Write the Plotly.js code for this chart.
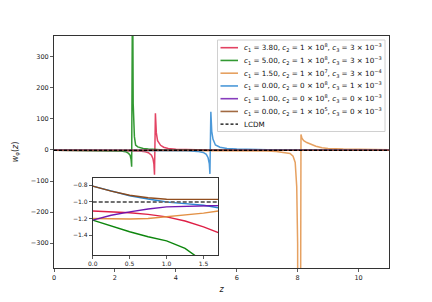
<!DOCTYPE html>
<html><head><meta charset="utf-8">
<script src="https://cdn.plot.ly/plotly-3.0.1.min.js"></script>
<style>html,body{margin:0;padding:0;background:#fff}#chart{width:432px;height:302px}</style>
</head><body><div id="chart"></div>
<script>
// ---- data ----
const labels = [
  "<i>c</i><sub>1</sub> = 3.80, <i>c</i><sub>2</sub> = 1 × 10<sup>8</sup>, <i>c</i><sub>3</sub> = 3 × 10<sup>−3</sup>",
  "<i>c</i><sub>1</sub> = 5.00, <i>c</i><sub>2</sub> = 1 × 10<sup>8</sup>, <i>c</i><sub>3</sub> = 3 × 10<sup>−3</sup>",
  "<i>c</i><sub>1</sub> = 1.50, <i>c</i><sub>2</sub> = 1 × 10<sup>7</sup>, <i>c</i><sub>3</sub> = 3 × 10<sup>−4</sup>",
  "<i>c</i><sub>1</sub> = 0.00, <i>c</i><sub>2</sub> = 0 × 10<sup>8</sup>, <i>c</i><sub>3</sub> = 1 × 10<sup>−3</sup>",
  "<i>c</i><sub>1</sub> = 1.00, <i>c</i><sub>2</sub> = 0 × 10<sup>8</sup>, <i>c</i><sub>3</sub> = 0 × 10<sup>−3</sup>",
  "<i>c</i><sub>1</sub> = 0.00, <i>c</i><sub>2</sub> = 1 × 10<sup>5</sup>, <i>c</i><sub>3</sub> = 0 × 10<sup>−3</sup>"
];
const lcdmLabel = "LCDM";

const zRed = [0,0.25,0.5,0.75,1.0,1.25,1.5,1.7,2.0,2.3,2.6,2.8,3.0,3.1,3.2,3.25,3.28,3.30,3.33,3.36,3.4,3.5,3.6,3.75,4.0,4.5,5,6,7,8,9,10,11];
const wRed = [-1.11,-1.12,-1.13,-1.15,-1.18,-1.23,-1.30,-1.37,-1.55,-1.9,-2.6,-3.5,-6,-9,-17,-28,-45,-80,118,55,30,15,9,5,2.5,0.8,-0.2,-0.7,-0.88,-0.94,-0.97,-0.99,-1.0];

const zGreen = [0,0.25,0.5,0.75,1.0,1.25,1.38,1.5,1.7,2.0,2.2,2.35,2.45,2.5,2.53,2.55,2.58,2.6,2.64,2.68,2.75,2.93,3.1,3.5,4,5,6,7,8,9,10,11];
const wGreen = [-1.22,-1.29,-1.36,-1.42,-1.47,-1.56,-1.64,-1.72,-1.9,-2.5,-3.5,-5.5,-11,-17,-30,-54,600,150,43,16,10,5,3,1,0,-0.6,-0.85,-0.93,-0.97,-0.98,-0.99,-1.0];

const zOrange = [0,0.25,0.5,0.75,1.0,1.25,1.5,1.7,2.0,3.0,4.0,5.0,6.0,6.5,6.77,7.0,7.3,7.5,7.75,7.85,7.92,7.97,8.0,8.04,8.11,8.14,8.2,8.3,8.42,8.6,8.8,9.0,9.5,10,11];
const wOrange = [-1.20,-1.205,-1.205,-1.20,-1.18,-1.16,-1.135,-1.11,-1.08,-1.0,-1.05,-1.2,-1.6,-1.9,-2,-3,-5,-7,-11,-20,-40,-118,-300,-3000,50,38,30,24,19,12,7,5,3,1.5,0.5];

const zBlue = [0,0.25,0.5,0.75,1.0,1.25,1.5,1.7,2.0,2.5,3.0,3.5,4.0,4.4,4.7,4.9,5.0,5.06,5.1,5.12,5.15,5.18,5.22,5.3,5.45,5.68,6.0,6.5,7,8,9,10,11];
const wBlue = [-0.81,-0.87,-0.925,-0.965,-1.0,-1.02,-1.04,-1.07,-1.1,-1.18,-1.3,-1.5,-1.9,-2.7,-4.5,-8,-14,-25,-45,-77,123,60,35,16,9,5,3,1.5,0.5,-0.3,-0.7,-0.85,-0.92];

const zPurple = [0,0.25,0.5,0.75,1.0,1.25,1.5,1.7,2.0,3.0,5.0,11];
const wPurple = [-1.22,-1.16,-1.12,-1.085,-1.06,-1.045,-1.03,-1.025,-1.02,-1.01,-1.005,-1.0];

const zBrown = [0,0.25,0.5,0.75,1.0,1.25,1.5,1.7,2.0,3.0,5.0,11];
const wBrown = [-0.81,-0.87,-0.92,-0.95,-0.967,-0.977,-0.983,-0.986,-0.99,-0.995,-0.998,-1.0];

const zLcdm = [0, 11];
const wLcdm = [-1, -1];

const colors = ["#dc143c", "#008000", "#e08a3a", "#1f80d0", "#6a0dad", "#8b4513"];
const xTicks = [0, 2, 4, 6, 8, 10];
const yTicks = [-300, -200, -100, 0, 100, 200, 300];
const insetXTicks = [0, 0.5, 1.0, 1.5];
const insetYTicks = [-1.4, -1.2, -1.0, -0.8];

// ---- build ----
const series = [[zRed,wRed],[zGreen,wGreen],[zOrange,wOrange],[zBlue,wBlue],[zPurple,wPurple],[zBrown,wBrown]];
const traces = [];
series.forEach((s,i)=>{
  traces.push({x:s[0], y:s[1], type:'scatter', mode:'lines', name:labels[i], showlegend:false,
    line:{color:colors[i], width:1.5}, opacity:0.8, xaxis:'x', yaxis:'y', hoverinfo:'skip'});
});
traces.push({x:zLcdm, y:wLcdm, type:'scatter', mode:'lines', name:lcdmLabel, showlegend:false,
  line:{color:'#000', width:1.2, dash:'3px,2px'}, xaxis:'x', yaxis:'y'});
// inset
series.forEach((s,i)=>{
  traces.push({x:s[0], y:s[1], type:'scatter', mode:'lines', showlegend:false,
    line:{color:colors[i], width:1.4}, opacity:0.95, xaxis:'x2', yaxis:'y2', hoverinfo:'skip'});
});
traces.push({x:zLcdm, y:wLcdm, type:'scatter', mode:'lines', showlegend:false,
  line:{color:'#707070', width:2, dash:'4px,2px'}, xaxis:'x2', yaxis:'y2'});

// manual legend (compact spacing)
const W = 432, H = 302, mL = 54, mR = 43, mT = 36, mB = 34;
const pw = W - mL - mR, ph = H - mT - mB;
const px = v => (v - mL) / pw;
const py = v => (H - mB - v) / ph;
const shapes = [{type:'rect', xref:'paper', yref:'paper', x0:px(217.5), x1:px(385), y0:py(131.5), y1:py(40),
  line:{color:'#d0d0d0', width:1}, fillcolor:'rgba(255,255,255,0.85)', layer:'above'}];
const annotations = [];
const legLabels = labels.concat([lcdmLabel]);
legLabels.forEach((t,i)=>{
  const yy = 47.7 + i*12.75;
  const isL = i === labels.length;
  shapes.push({type:'line', xref:'paper', yref:'paper', x0:px(220.5), x1:px(238), y0:py(yy), y1:py(yy),
    line:{color: isL ? '#000' : colors[i], width: isL ? 1.2 : 1.6, dash: isL ? '3px,2px' : 'solid'},
    opacity: isL ? 1 : 0.8, layer:'above'});
  annotations.push({xref:'paper', yref:'paper', x:px(242), y:py(yy), text:t, showarrow:false,
    xanchor:'left', yanchor:'middle', font:{size:7.2, color:'#111'}});
});

const axBase = {showgrid:false, zeroline:false, showline:true, mirror:true, linecolor:'#333', linewidth:1,
  ticks:'outside', ticklen:3, tickwidth:0.8, tickcolor:'#333', tickfont:{size:6.5, color:'#222'}};

const layout = {
  width: W, height: H,
  margin:{l:mL, r:mR, t:mT, b:mB, pad:0},
  paper_bgcolor:'#fff', plot_bgcolor:'#fff',
  font:{family:'DejaVu Sans, sans-serif', color:'#222'},
  showlegend:false,
  xaxis: Object.assign({}, axBase, {range:[0,11], tickvals:xTicks, domain:[0,1], anchor:'y',
    title:{text:'<i>z</i>', font:{size:8}, standoff:5}}),
  yaxis: Object.assign({}, axBase, {range:[-380,367], tickvals:yTicks, domain:[0,1], anchor:'x',
    title:{text:'<i>w</i><sub>φ</sub>(<i>z</i>)', font:{size:8}, standoff:11}}),
  xaxis2: Object.assign({}, axBase, {range:[0,1.7], tickvals:insetXTicks, tickformat:'.1f',
    domain:[px(92.7), px(218.3)], anchor:'y2', tickfont:{size:6, color:'#222'}}),
  yaxis2: Object.assign({}, axBase, {range:[-1.64,-0.715], tickvals:insetYTicks, tickformat:'.1f',
    domain:[py(255), py(178.3)], anchor:'x2', tickfont:{size:6, color:'#222'}}),
  shapes: shapes,
  annotations: annotations
};
Plotly.newPlot('chart', traces, layout, {staticPlot:true, displayModeBar:false});
</script>
</body></html>
